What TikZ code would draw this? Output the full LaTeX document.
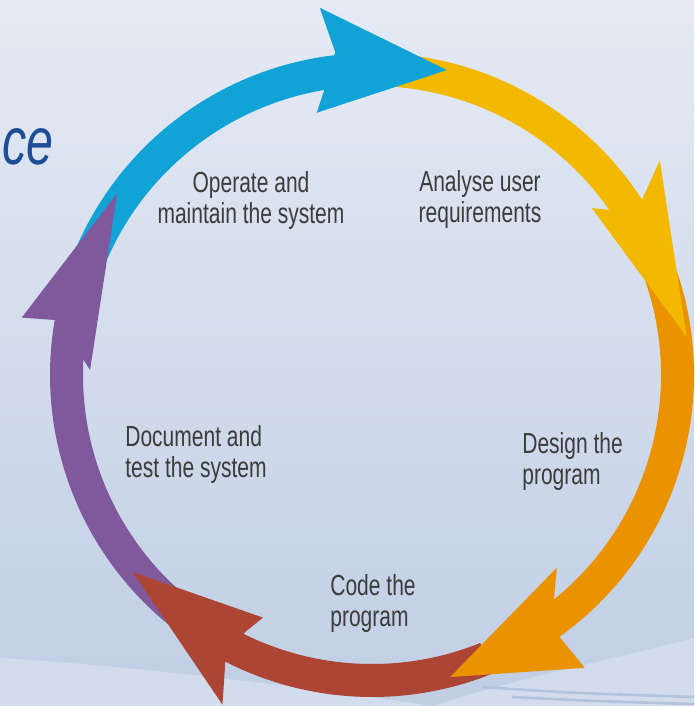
\documentclass[tikz,border=0pt]{standalone}
\usepackage{fontspec}
\setmainfont{Liberation Sans}
\newfontfamily\labelfont[FakeStretch=0.725]{Liberation Sans}
\usepackage{xcolor}
\usepackage{tikz}

\definecolor{cycblue}{RGB}{18,163,214}
\definecolor{cycyellow}{RGB}{243,184,0}
\definecolor{cycorange}{RGB}{234,146,0}
\definecolor{cycred}{RGB}{173,69,53}
\definecolor{cycpurple}{RGB}{127,89,155}
\definecolor{labelgrey}{RGB}{60,60,60}
\definecolor{titleblue}{RGB}{30,78,152}
\definecolor{bgtop}{RGB}{229,234,244}
\definecolor{bgbottom}{RGB}{192,206,228}
\definecolor{swoosh}{RGB}{210,220,236}
\definecolor{streakblue}{RGB}{180,195,220}

\begin{document}
\begin{tikzpicture}[x=0.02cm, y=0.02cm,
    steptext/.style={font=\labelfont\fontsize{16.5}{17.6}\selectfont, text=labelgrey, inner sep=0pt},
    streak/.style={streakblue, line width=1.5pt}]
    % background
    \useasboundingbox (-372,-331) rectangle (322,375);
    \fill[top color=bgtop, bottom color=bgbottom] (-372,-331) rectangle (322,375);
    \fill[swoosh] (-372,-283) .. controls (-250,-290) and (-80,-310) .. (60,-331) -- (-372,-331) -- cycle;
    \fill[swoosh] (322,-263) .. controls (250,-282) and (150,-302) .. (60,-331) -- (322,-331) -- cycle;
    \draw[streak] (110,-312) .. controls (200,-318) .. (322,-322);
    \draw[streak] (140,-322) .. controls (220,-326) .. (322,-329);

    % title, cut at the left edge
    \node[anchor=base east, inner sep=0pt, text=titleblue,
          font=\labelfont\itshape\fontsize{38}{42}\selectfont] (title) at (-318,210) {ce};

    % bands
    \fill[cycblue] (160:322) arc[start angle=160, end angle=96, radius=322]
        -- (96:289) arc[start angle=96, end angle=160, radius=289] -- cycle;
    \fill[cycyellow] (88:322) arc[start angle=88, end angle=32.5, radius=322]
        -- (32.5:289) arc[start angle=32.5, end angle=88, radius=289] -- cycle;
    \fill[cycorange] (22:322) arc[start angle=22, end angle=-55, radius=322]
        -- (-55:289) arc[start angle=-55, end angle=22, radius=289] -- cycle;
    \fill[cycred] (-68:322) arc[start angle=-68, end angle=-117.5, radius=322]
        -- (-117.5:289) arc[start angle=-117.5, end angle=-68, radius=289] -- cycle;
    \fill[cycpurple] (235:322) arc[start angle=235, end angle=169.5, radius=322]
        -- (169.5:289) arc[start angle=169.5, end angle=235, radius=289] -- cycle;

    % heads
    \fill[cycblue] (96.5:325) -- (98.1:371) -- (76.2:314) -- (101.9:268) -- (99.3:291) -- cycle;
    \fill[cycyellow] (33.0:322) -- (36.7:359) -- (6.9:317) -- (37.2:276) -- (34.5:291) -- cycle;
    \fill[cycorange] (-54.4:323) -- (-54.0:362) -- (-75.5:312) -- (-46.2:267) -- (-51.0:289) -- cycle;
    \fill[cycred] (-117.1:322) -- (-114.4:362) -- (-140.5:310) -- (-114.2:266) -- (-116.3:287) -- cycle;
    \fill[cycpurple] (170.1:319) -- (170.7:355) -- (144.5:313) -- (179.0:282) -- (176.4:291) -- cycle;

    % text
    \node[steptext, anchor=north, align=center] (operate) at (-121,204) {Operate and\\maintain the system};
    \node[steptext, anchor=north, align=center] (analyse) at (108,205) {Analyse user\\requirements};
    \node[steptext, anchor=north west, align=left] (design) at (150,-57) {Design the\\program};
    \node[steptext, anchor=north west, align=left] (code) at (-42,-199) {Code the\\program};
    \node[steptext, anchor=north west, align=left] (document) at (-247,-50) {Document and\\test the system};
\end{tikzpicture}
\end{document}
